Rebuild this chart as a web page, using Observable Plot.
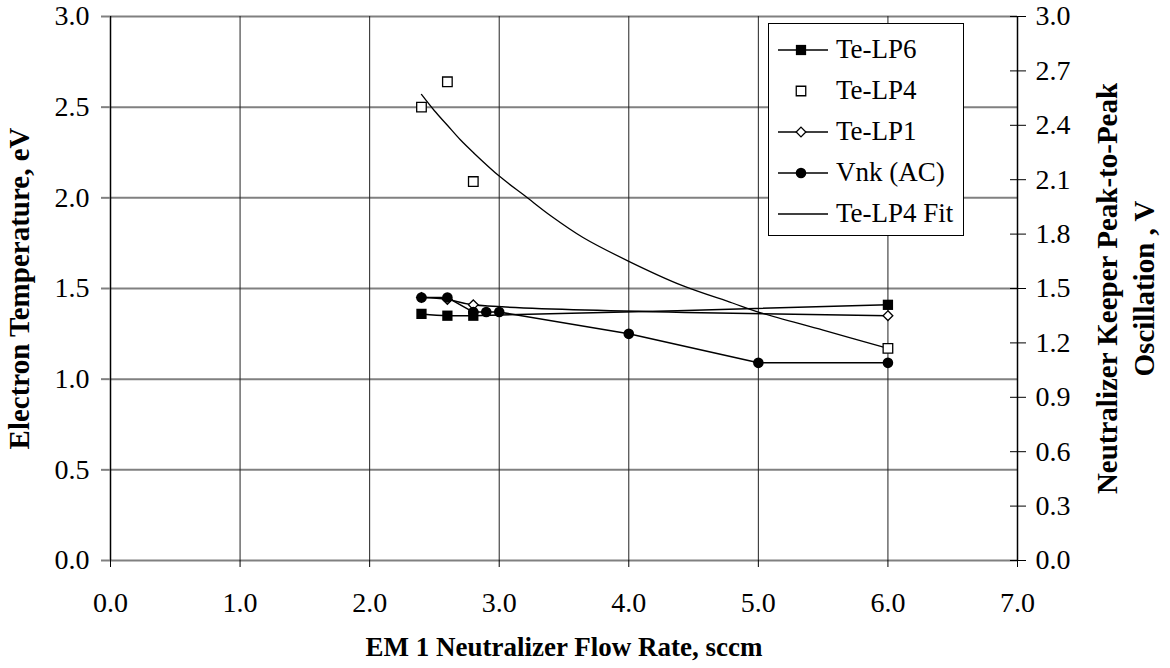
<!DOCTYPE html>
<html>
<head>
<meta charset="utf-8">
<script src="https://cdn.jsdelivr.net/npm/d3@7"></script>
<script src="https://cdn.jsdelivr.net/npm/@observablehq/plot@0.6"></script>
<style>
  html, body { margin: 0; padding: 0; background: #fff; }
  #wrap { position: relative; width: 1170px; height: 668px; font-family: "Liberation Serif", "Times New Roman", Times, serif; }
  #legend {
    position: absolute; left: 768px; top: 23px;
    border: 1px solid #000; background: #fff;
    padding: 5px 10px 1px 9px;
  }
  #legend .row { display: flex; align-items: center; height: 41px; }
  #legend .row svg { display: block; }
  #legend .row span { margin-left: 8px; font-size: 27px; color: #000; line-height: 1; font-family: "Liberation Serif", "Times New Roman", Times, serif; }
</style>
</head>
<body>
<div id="wrap"><div id="chart"></div><div id="legend"></div></div>
<script>
// Flow rate (sccm) and electron temperature (eV) for each Langmuir probe
const lp6Flow = [2.4, 2.6, 2.8, 6.0];
const lp6Te   = [1.36, 1.35, 1.35, 1.41];

const lp4Flow = [2.4, 2.6, 2.8, 6.0];
const lp4Te   = [2.50, 2.64, 2.09, 1.17];

const lp1Flow = [2.4, 2.6, 2.8, 6.0];
const lp1Te   = [1.45, 1.44, 1.41, 1.35];

// Neutralizer keeper peak-to-peak oscillation (V)
const vnkFlow = [2.4, 2.6, 2.8, 2.9, 3.0, 4.0, 5.0, 6.0];
const vnkPP   = [1.45, 1.45, 1.37, 1.37, 1.37, 1.25, 1.09, 1.09];

// Fitted trend through the LP4 temperatures
const fitFlow = [2.40, 2.50, 2.60, 2.70, 2.80, 3.00, 3.20, 3.40, 3.65, 4.00, 4.40, 4.80, 5.00, 5.50, 6.00];
const fitTe   = [2.57, 2.48, 2.40, 2.32, 2.25, 2.12, 2.01, 1.90, 1.78, 1.65, 1.52, 1.42, 1.37, 1.27, 1.17];

// Axis ticks
const xTicks = [0, 1, 2, 3, 4, 5, 6, 7];
const leftTicks = [0, 0.5, 1.0, 1.5, 2.0, 2.5, 3.0];
const rightTicks = [0, 0.3, 0.6, 0.9, 1.2, 1.5, 1.8, 2.1, 2.4, 2.7, 3.0];

const legendItems = ["Te-LP6", "Te-LP4", "Te-LP1", "Vnk (AC)", "Te-LP4 Fit"];

const zip = (xs, ys) => xs.map((x, i) => ({x, y: ys[i]}));
const lp6 = zip(lp6Flow, lp6Te);
const lp4 = zip(lp4Flow, lp4Te);
const lp1 = zip(lp1Flow, lp1Te);
const vnk = zip(vnkFlow, vnkPP);
const fit = zip(fitFlow, fitTe);

const fmt = d3.format(".1f");
const serif = "'Liberation Serif', 'Times New Roman', Times, serif";

const chart = Plot.plot({
  width: 1170,
  height: 668,
  marginLeft: 110,
  marginRight: 153,
  marginTop: 16,
  marginBottom: 108,
  x: {domain: [0, 7]},
  y: {domain: [0, 3]},
  style: {fontFamily: serif, fontSize: "28px", background: "#fff", color: "#000"},
  marks: [
    // grid
    Plot.gridY(leftTicks, {stroke: "#808080", strokeOpacity: 1, strokeWidth: 2}),
    Plot.gridX([1, 2, 3, 4, 5, 6], {stroke: "#222", strokeOpacity: 1, strokeWidth: 1}),
    Plot.ruleX([0], {stroke: "#000", strokeWidth: 1.5}),
    Plot.ruleX([7], {stroke: "#000", strokeWidth: 1.5}),

    // axes
    Plot.axisX({ticks: xTicks, tickFormat: fmt, tickSize: 7, tickPadding: 25, label: null, fontSize: 28, fontFamily: serif}),
    Plot.axisY({ticks: leftTicks, tickFormat: fmt, tickSize: 9, tickPadding: 12, label: null, fontSize: 28, fontFamily: serif, stroke: "#808080", strokeWidth: 2}),
    Plot.axisY({anchor: "right", ticks: rightTicks, tickFormat: () => "", tickSize: 16, dx: -8, label: null}),
    Plot.axisY({anchor: "right", ticks: rightTicks, tickFormat: fmt, tickSize: 0, tickPadding: 18, label: null, fontSize: 28, fontFamily: serif}),

    // axis titles
    Plot.text(["Electron Temperature, eV"], {text: d => d, frameAnchor: "left", textAnchor: "middle", dx: -91, rotate: -90, fontWeight: "bold", fontSize: 29, fontFamily: serif}),
    Plot.text(["Neutralizer Keeper Peak-to-Peak\nOscillation , V"], {text: d => d, frameAnchor: "right", textAnchor: "middle", dx: 106, rotate: -90, fontWeight: "bold", fontSize: 29, lineHeight: 1.3, fontFamily: serif}),
    Plot.text(["EM 1 Neutralizer Flow Rate, sccm"], {text: d => d, frameAnchor: "bottom", dy: 95, fontWeight: "bold", fontSize: 27, fontFamily: serif}),

    // fit curve
    Plot.line(fit, {x: "x", y: "y", stroke: "#000", strokeWidth: 1.3, curve: "catmull-rom"}),

    // series lines
    Plot.line(lp1, {x: "x", y: "y", stroke: "#000", strokeWidth: 1.5, curve: "catmull-rom"}),
    Plot.line(lp6, {x: "x", y: "y", stroke: "#000", strokeWidth: 1.5, curve: "catmull-rom"}),
    Plot.line(vnk, {x: "x", y: "y", stroke: "#000", strokeWidth: 1.5}),

    // markers
    Plot.dot(lp4, {x: "x", y: "y", symbol: "square", r: 5.4, fill: "#fff", stroke: "#000", strokeWidth: 1.3}),
    Plot.dot(lp1, {x: "x", y: "y", symbol: "diamond2", r: 4.4, fill: "#fff", stroke: "#000", strokeWidth: 1.3}),
    Plot.dot(vnk, {x: "x", y: "y", symbol: "circle", r: 5.3, fill: "#000", stroke: "none"}),
    Plot.dot(lp6, {x: "x", y: "y", symbol: "square", r: 5.8, fill: "#000", stroke: "none"})
  ]
});
document.getElementById("chart").appendChild(chart);

// Legend
const legend = d3.select("#legend");
const symbolPath = {
  "Te-LP6": {type: d3.symbolSquare, size: 105, fill: "#000", stroke: "none", line: true},
  "Te-LP4": {type: d3.symbolSquare, size: 90, fill: "#fff", stroke: "#000", line: false},
  "Te-LP1": {type: d3.symbolDiamond2, size: 60, fill: "#fff", stroke: "#000", line: true},
  "Vnk (AC)": {type: d3.symbolCircle, size: 88, fill: "#000", stroke: "none", line: true},
  "Te-LP4 Fit": {type: null, line: true}
};
for (const name of legendItems) {
  const s = symbolPath[name];
  const row = legend.append("div").attr("class", "row");
  const svg = row.append("svg").attr("width", 50).attr("height", 20);
  if (s.line) svg.append("line").attr("x1", 0).attr("x2", 50).attr("y1", 10).attr("y2", 10).attr("stroke", "#000").attr("stroke-width", 1.5);
  if (s.type) {
    svg.append("path")
      .attr("transform", "translate(23,10)")
      .attr("d", d3.symbol(s.type, s.size)())
      .attr("fill", s.fill)
      .attr("stroke", s.stroke)
      .attr("stroke-width", 1.3);
  }
  row.append("span").text(name);
}
</script>
</body>
</html>
